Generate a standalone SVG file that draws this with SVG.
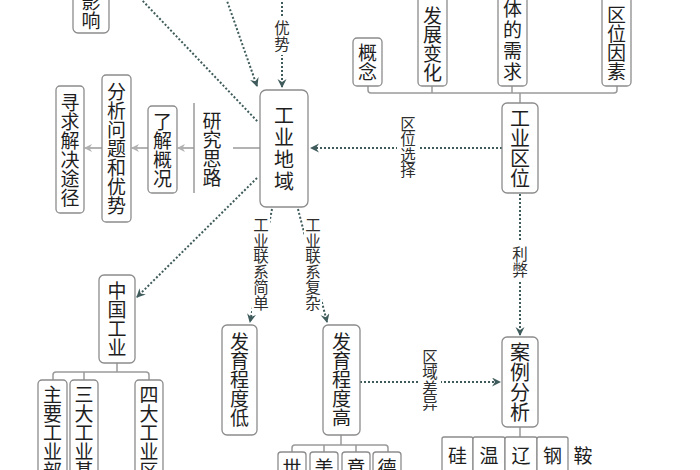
<svg xmlns="http://www.w3.org/2000/svg" width="700" height="470" viewBox="0 0 700 470">
<defs>
<style>
.box{fill:#fff;stroke:#8c8c8c;stroke-width:1.3}
.t{font-family:"Noto Sans CJK SC","Noto Sans CJK JP",sans-serif;writing-mode:vertical-rl;text-anchor:middle;fill:#1e1e1e}
.s{text-anchor:start}
.n{font-size:19px}
.big{font-size:20px}
.lab{font-size:15.5px;fill:#2e2e2e}
.dot{stroke:#3f5b5b;stroke-width:2;stroke-dasharray:2 2;fill:none}
.sol{stroke:#9a9a9a;stroke-width:1.5;fill:none}
.bg{fill:#fff}
</style>
<marker id="ad" markerUnits="userSpaceOnUse" markerWidth="10" markerHeight="10" refX="8" refY="4.5" orient="auto">
<path d="M0,0 L9,4.5 L0,9 L3,4.5 z" fill="#3f5b5b"/>
</marker>
<marker id="ag" markerUnits="userSpaceOnUse" markerWidth="10" markerHeight="10" refX="7" refY="4" orient="auto">
<path d="M0,0 L8,4 L0,8 L2.5,4 z" fill="#b0b0b0"/>
</marker>
</defs>
<rect width="700" height="470" fill="#fff"/>

<g id="connectors">
<line class="dot" x1="140" y1="-2" x2="258" y2="122"/>
<line class="dot" x1="226" y1="-2" x2="257" y2="86" marker-end="url(#ad)"/>
<line class="dot" x1="282" y1="-2" x2="282" y2="87" marker-end="url(#ad)"/>
<rect class="bg" x="273" y="17" width="18" height="38"/>
<text class="t lab" x="282" y="36">优势</text>

<line class="dot" x1="502" y1="148" x2="311" y2="148" marker-end="url(#ad)"/>
<rect class="bg" x="397" y="112" width="21" height="70"/>
<text class="t lab" x="408" y="147">区位选择</text>

<line class="dot" x1="520" y1="194" x2="520" y2="335" marker-end="url(#ad)"/>
<rect class="bg" x="511" y="242" width="18" height="40"/>
<text class="t lab" x="520" y="262">利弊</text>

<line class="dot" x1="360" y1="382" x2="500" y2="382" marker-end="url(#ad)"/>
<rect class="bg" x="420" y="344" width="21" height="72"/>
<text class="t lab" x="430" y="380">区域差异</text>

<line class="dot" x1="272" y1="209" x2="250" y2="322" marker-end="url(#ad)"/>
<rect class="bg" x="252" y="214" width="18" height="100"/>
<text class="t lab" x="261" y="264">工业联系简单</text>

<line class="dot" x1="298" y1="209" x2="327" y2="322" marker-end="url(#ad)"/>
<rect class="bg" x="304" y="214" width="18" height="100"/>
<text class="t lab" x="313" y="264">工业联系复杂</text>

<line class="dot" x1="257" y1="178" x2="137" y2="297" marker-end="url(#ad)"/>

<line class="sol" x1="260" y1="148" x2="233" y2="148"/>
<line class="sol" x1="194" y1="103" x2="194" y2="193"/>
<line class="sol" x1="194" y1="148" x2="178" y2="148" marker-end="url(#ag)"/>
<line class="sol" x1="148" y1="148" x2="132" y2="148" marker-end="url(#ag)"/>
<line class="sol" x1="102" y1="148" x2="85" y2="148" marker-end="url(#ag)"/>

<path class="sol" d="M368,86 V90 Q368,93 371,93 H614 Q617,93 617,90 V86 M432,86 V93 M512,86 V93 M520,93 V103"/>
<path class="sol" d="M117,363 V372 M53,380 V375 Q53,372 56,372 H146 Q149,372 149,375 V380 M84,372 V380"/>
<path class="sol" d="M341,435 V445 M292,452 V448 Q292,445 295,445 H385 Q388,445 388,448 V452 M324,445 V452 M356,445 V452"/>
<path class="sol" d="M520,427 V437"/>
</g>

<g id="n-yingxiang"><rect class="box" x="73" y="-10" width="36" height="43" rx="5"/><text class="t n" x="91" y="11">影响</text></g>
<g id="n-fazhan"><rect class="box" x="418" y="-10" width="29" height="96" rx="4"/><text class="t n" x="432.5" y="44">发展变化</text></g>
<g id="n-xuqiu"><rect class="box" x="498" y="-10" width="29" height="96" rx="4"/><text class="t n" x="512.5" y="41" style="letter-spacing:2px">体的需求</text></g>
<g id="n-yinsu"><rect class="box" x="602" y="-10" width="29" height="96" rx="4"/><text class="t n" x="616.5" y="43">区位因素</text></g>
<g id="n-gainian"><rect class="box" x="353" y="38" width="29" height="48" rx="4"/><text class="t n" x="367.5" y="62">概念</text></g>
<g id="n-quwei"><rect class="box" x="502" y="103" width="36" height="90" rx="5"/><text class="t big" x="520" y="148">工业区位</text></g>
<g id="n-diyu"><rect class="box" x="260" y="90" width="48" height="117" rx="6"/><text class="t big" x="284" y="149" style="letter-spacing:2px">工业地域</text></g>
<g id="n-silu"><text class="t n" x="212" y="149">研究思路</text></g>
<g id="n-liaojie"><rect class="box" x="148" y="106" width="29" height="87" rx="4"/><text class="t n" x="162.5" y="150">了解概况</text></g>
<g id="n-fenxi"><rect class="box" x="102" y="75" width="29" height="147" rx="4"/><text class="t n" x="116.5" y="149">分析问题和优势</text></g>
<g id="n-xunqiu"><rect class="box" x="56" y="86" width="28" height="127" rx="4"/><text class="t n" x="70" y="150">寻求解决途径</text></g>
<g id="n-zhongguo"><rect class="box" x="99" y="275" width="36" height="88" rx="5"/><text class="t n" x="117" y="319">中国工业</text></g>
<g id="n-zhuyao"><rect class="box" x="38" y="380" width="29" height="100" rx="4"/><text class="t n s" x="52.5" y="385">主要工业部</text></g>
<g id="n-sanda"><rect class="box" x="70" y="380" width="28" height="100" rx="4"/><text class="t n s" x="84" y="385">三大工业基</text></g>
<g id="n-sida"><rect class="box" x="135" y="380" width="28" height="100" rx="4"/><text class="t n s" x="149" y="385">四大工业区</text></g>
<g id="n-di"><rect class="box" x="222" y="325" width="35" height="110" rx="5"/><text class="t n" x="239.5" y="380">发育程度低</text></g>
<g id="n-gao"><rect class="box" x="323" y="325" width="37" height="110" rx="5"/><text class="t n" x="341.5" y="380">发育程度高</text></g>
<g id="n-g1"><rect class="box" x="278" y="452" width="28" height="30" rx="3"/><text class="t n s" x="292" y="458">世</text></g>
<g id="n-g2"><rect class="box" x="310" y="452" width="28" height="30" rx="3"/><text class="t n s" x="324" y="458">美</text></g>
<g id="n-g3"><rect class="box" x="342" y="452" width="28" height="30" rx="3"/><text class="t n s" x="356" y="458">意</text></g>
<g id="n-g4"><rect class="box" x="373" y="452" width="28" height="30" rx="3"/><text class="t n s" x="387" y="458">德</text></g>
<g id="n-anli"><rect class="box" x="502" y="337" width="36" height="90" rx="5"/><text class="t big" x="520" y="382">案例分析</text></g>
<g id="n-c1"><rect class="box" x="442" y="437" width="31" height="45" rx="2"/><text class="t n s" x="457.5" y="446">硅</text></g>
<g id="n-c2"><rect class="box" x="473" y="437" width="32" height="45" rx="2"/><text class="t n s" x="489" y="446">温</text></g>
<g id="n-c3"><rect class="box" x="505" y="437" width="32" height="45" rx="2"/><text class="t n s" x="521" y="446">辽</text></g>
<g id="n-c4"><rect class="box" x="537" y="437" width="31" height="45" rx="2"/><text class="t n s" x="552.5" y="446">钢</text></g>
<g id="n-c5"><text class="t n s" x="583" y="446">鞍</text></g>
</svg>
